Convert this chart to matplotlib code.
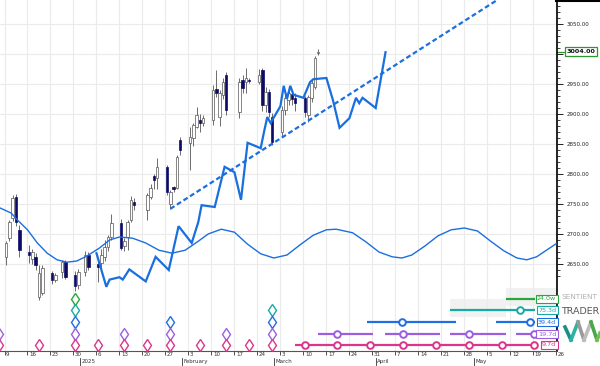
import matplotlib
matplotlib.use("Agg")
import matplotlib.pyplot as plt
import matplotlib.dates as mdates
import matplotlib.transforms as mtransforms
from matplotlib.patches import Rectangle
from matplotlib.lines import Line2D
import pandas as pd

# daily candles
candle_dates = ["2024-12-09", "2024-12-10", "2024-12-11", "2024-12-12", "2024-12-13",
                "2024-12-16", "2024-12-17", "2024-12-18", "2024-12-19", "2024-12-20",
                "2024-12-23", "2024-12-24", "2024-12-26", "2024-12-27",
                "2024-12-30", "2024-12-31", "2025-01-02", "2025-01-03",
                "2025-01-06", "2025-01-07", "2025-01-08", "2025-01-09", "2025-01-10",
                "2025-01-13", "2025-01-14", "2025-01-15", "2025-01-16", "2025-01-17",
                "2025-01-21", "2025-01-22", "2025-01-23", "2025-01-24",
                "2025-01-27", "2025-01-28", "2025-01-29", "2025-01-30", "2025-01-31",
                "2025-02-03", "2025-02-04", "2025-02-05", "2025-02-06", "2025-02-07",
                "2025-02-10", "2025-02-11", "2025-02-12", "2025-02-13", "2025-02-14",
                "2025-02-18", "2025-02-19", "2025-02-20", "2025-02-21",
                "2025-02-24", "2025-02-25", "2025-02-26", "2025-02-27", "2025-02-28",
                "2025-03-03", "2025-03-04", "2025-03-05", "2025-03-06", "2025-03-07",
                "2025-03-10", "2025-03-11", "2025-03-12", "2025-03-13", "2025-03-14"]
opens = [2662, 2693, 2727, 2762, 2707,
         2670, 2658, 2662, 2595, 2602,
         2635, 2623, 2637, 2653,
         2632, 2615, 2637, 2665,
         2650, 2652, 2662, 2678, 2695,
         2718, 2680, 2695, 2723, 2753,
         2740, 2762, 2797, 2793,
         2812, 2750, 2778, 2777, 2857,
         2852, 2860, 2878, 2890, 2885,
         2890, 2942, 2895, 2932, 2965,
         2903, 2957, 2953, 2957,
         2953, 2973, 2915, 2937, 2895,
         2870, 2907, 2923, 2933, 2927,
         2927, 2898, 2927, 2945, 3001]
highs = [2688, 2724, 2765, 2767, 2715,
         2682, 2675, 2668, 2648, 2648,
         2638, 2635, 2657, 2657,
         2638, 2642, 2672, 2670,
         2662, 2675, 2690, 2698, 2733,
         2725, 2693, 2723, 2763, 2760,
         2768, 2783, 2800, 2827,
         2815, 2773, 2780, 2832, 2862,
         2878, 2885, 2912, 2900, 2898,
         2948, 2973, 2940, 2960, 2970,
         2960, 2965, 2977, 2960,
         2975, 2977, 2945, 2942, 2902,
         2913, 2933, 2945, 2940, 2935,
         2930, 2932, 2957, 2997, 3008]
lows = [2648, 2688, 2722, 2714, 2662,
        2652, 2650, 2640, 2590, 2598,
        2617, 2620, 2627, 2625,
        2605, 2608, 2630, 2640,
        2620, 2640, 2655, 2672, 2690,
        2673, 2672, 2673, 2720, 2740,
        2723, 2758, 2775, 2775,
        2765, 2742, 2770, 2775, 2832,
        2807, 2847, 2877, 2870, 2880,
        2882, 2928, 2880, 2925, 2898,
        2893, 2935, 2935, 2952,
        2950, 2905, 2903, 2895, 2848,
        2862, 2898, 2915, 2915, 2905,
        2895, 2887, 2920, 2942, 2998]
closes = [2685, 2720, 2760, 2720, 2673,
          2665, 2670, 2648, 2635, 2643,
          2623, 2632, 2653, 2628,
          2613, 2637, 2665, 2645,
          2645, 2665, 2678, 2695, 2718,
          2677, 2688, 2720, 2757, 2748,
          2765, 2777, 2790, 2812,
          2770, 2770, 2775, 2828, 2840,
          2862, 2882, 2898, 2885, 2893,
          2940, 2935, 2935, 2953, 2907,
          2953, 2943, 2960, 2955,
          2965, 2915, 2937, 2903, 2853,
          2907, 2927, 2935, 2925, 2918,
          2903, 2928, 2952, 2993, 3004]
last_price = 3004

# bold blue projection line
proj_dates = ["2025-01-06", "2025-01-09", "2025-01-10", "2025-01-13", "2025-01-14",
              "2025-01-16", "2025-01-21", "2025-01-24", "2025-01-28", "2025-01-31",
              "2025-02-04", "2025-02-06", "2025-02-07", "2025-02-11", "2025-02-14",
              "2025-02-17", "2025-02-19", "2025-02-21", "2025-02-25", "2025-02-26",
              "2025-02-27", "2025-02-28", "2025-03-03", "2025-03-04", "2025-03-05",
              "2025-03-06", "2025-03-07", "2025-03-10", "2025-03-12", "2025-03-13",
              "2025-03-17", "2025-03-19", "2025-03-21", "2025-03-24", "2025-03-26",
              "2025-03-27", "2025-03-28", "2025-04-01", "2025-04-04"]
proj_vals = [2668, 2612, 2624, 2628, 2624,
             2641, 2621, 2662, 2640, 2713,
             2685, 2720, 2748, 2745, 2812,
             2803, 2757, 2852, 2843, 2870,
             2895, 2885, 2913, 2947, 2925,
             2947, 2932, 2927, 2953, 2958,
             2960, 2923, 2877, 2893, 2927,
             2918, 2927, 2910, 3003]

# thin composite cycle line
cycle_dates = ["2024-12-07", "2024-12-11", "2024-12-13", "2024-12-16", "2024-12-19",
               "2024-12-22", "2024-12-25", "2024-12-28", "2024-12-31", "2025-01-03",
               "2025-01-07", "2025-01-10", "2025-01-13", "2025-01-17", "2025-01-21",
               "2025-01-25", "2025-01-29", "2025-02-02", "2025-02-06", "2025-02-09",
               "2025-02-13", "2025-02-17", "2025-02-21", "2025-02-25", "2025-03-01",
               "2025-03-05", "2025-03-09", "2025-03-13", "2025-03-17", "2025-03-20",
               "2025-03-25", "2025-03-29", "2025-04-02", "2025-04-06", "2025-04-09",
               "2025-04-12", "2025-04-16", "2025-04-20", "2025-04-24", "2025-04-28",
               "2025-05-02", "2025-05-06", "2025-05-10", "2025-05-14", "2025-05-17",
               "2025-05-20", "2025-05-23", "2025-05-26"]
cycle_vals = [2745, 2735, 2723, 2707, 2685,
              2668, 2657, 2653, 2655, 2663,
              2677, 2690, 2695, 2693, 2685,
              2673, 2668, 2673, 2688, 2700,
              2708, 2703, 2683, 2667, 2660,
              2665, 2682, 2698, 2707, 2708,
              2702, 2687, 2670, 2662, 2660,
              2665, 2680, 2697, 2707, 2710,
              2705, 2688, 2672, 2660, 2657,
              2662, 2673, 2684]

# dashed trend line
trend_dates = ["2025-01-28 12:00", "2025-05-08"]
trend_vals = [2742, 3090]

# cycle troughs (diamonds) and projected windows
cycle_names = ["24.0w", "75.3d", "39.4d", "19.7d", "9.7d"]
cycle_colors = ["#2aa63c", "#17aaa3", "#1f6fe3", "#9b5fe0", "#d9368c"]
trough_dates = {
    "24.0w": ["2024-12-30"],
    "75.3d": ["2024-12-30", "2025-02-28"],
    "39.4d": ["2024-12-30", "2025-01-28", "2025-02-28"],
    "19.7d": ["2024-12-06 18:00", "2024-12-30", "2025-01-14", "2025-01-28", "2025-02-14", "2025-02-28"],
    "9.7d": ["2024-12-06 18:00", "2024-12-19", "2024-12-30", "2025-01-06", "2025-01-14", "2025-01-21",
             "2025-01-28", "2025-02-06", "2025-02-14", "2025-02-21", "2025-02-28"],
}
window_spans = {
    "24.0w": [("2025-05-10 19:00", "2025-05-19 12:00")],
    "75.3d": [("2025-04-23 17:00", "2025-05-19 12:00")],
    "39.4d": [("2025-03-29 12:00", "2025-04-25 14:00"), ("2025-05-07 17:00", "2025-05-19 12:00")],
    "19.7d": [("2025-03-14 14:00", "2025-03-31 07:00"), ("2025-04-03 17:00", "2025-04-20 17:00"),
              ("2025-04-23 17:00", "2025-05-10 19:00"), ("2025-05-13 19:00", "2025-05-19 12:00")],
    "9.7d": [("2025-03-07 14:00", "2025-05-19 12:00")],
}
window_marks = {
    "24.0w": [],
    "75.3d": ["2025-05-15"],
    "39.4d": ["2025-04-09 03:00", "2025-05-18"],
    "19.7d": ["2025-03-20 08:00", "2025-04-09 10:00", "2025-04-29 12:00", "2025-05-19 08:00"],
    "9.7d": ["2025-03-10 08:00", "2025-03-20 08:00", "2025-03-30 10:00", "2025-04-09 10:00",
             "2025-04-19 12:00", "2025-04-29 12:00", "2025-05-09 14:00", "2025-05-19 08:00"],
}
shade_spans = [("2025-05-10 19:00", "2025-05-27", 2580, 2610),
               ("2025-04-23 17:00", "2025-05-10 19:00", 2562, 2592)]

week_ticks = pd.date_range("2024-12-09", "2025-05-26", freq="7D")
month_ticks = ["2025-01-01", "2025-02-01", "2025-03-01", "2025-04-01", "2025-05-01"]
month_labels = ["2025", "February", "March", "April", "May"]

BLUE = "#1a6fdf"


def num(d):
    return mdates.date2num(pd.to_datetime(d))


fig = plt.figure(figsize=(6, 3.66), dpi=100)
ax = fig.add_axes([0, 15 / 366, 556.5 / 600, 351 / 366])
base = num("2024-12-09")
ax.set_xlim(base - 1.37, base + 168.05)
ax.set_ylim(2505, 3090)

row_level = dict(zip(cycle_names, [2592, 2573, 2553, 2533, 2515]))

for d0, d1, v0, v1 in shade_spans:
    ax.add_patch(Rectangle((num(d0), v0), num(d1) - num(d0), v1 - v0,
                           facecolor="#f1f1f1", edgecolor="none", zorder=0.5))

# candles
cx = [num(d) + 0.5 for d in candle_dates]
for x, o, h, l, c in zip(cx, opens, highs, lows, closes):
    up = c >= o
    ax.plot([x, x], [l, h], color="#555555", lw=0.6, zorder=3, solid_capstyle="butt")
    ax.add_patch(Rectangle((x - 0.38, min(o, c)), 0.76, max(abs(c - o), 1.0),
                           facecolor="white" if up else "#0c0c66",
                           edgecolor="#555555" if up else "#0c0c66", lw=0.5, zorder=4))

ax.plot([num(d) for d in cycle_dates], cycle_vals, color=BLUE, lw=1.0, zorder=5)
ax.plot([num(d) for d in proj_dates], proj_vals, color=BLUE, lw=1.6, zorder=6,
        solid_joinstyle="miter")
ax.plot([num(d) for d in trend_dates], trend_vals, color=BLUE, lw=1.6,
        dashes=(2.2, 1.3), zorder=6)

# trough diamonds
for name, color in zip(cycle_names, cycle_colors):
    xs = [num(d) + 0.5 for d in trough_dates[name]]
    ax.plot(xs, [row_level[name]] * len(xs), linestyle="none", marker="d", ms=6.0,
            mfc="white", mec=color, mew=1.0, zorder=7, clip_on=True)

# projection windows
for name, color in zip(cycle_names, cycle_colors):
    for d0, d1 in window_spans[name]:
        ax.plot([num(d0), num(d1)], [row_level[name]] * 2, color=color, lw=1.6,
                zorder=7, solid_capstyle="butt")
    xs = [num(d) for d in window_marks[name]]
    ax.plot(xs, [row_level[name]] * len(xs), linestyle="none", marker="o", ms=4.8,
            mfc="white", mec=color, mew=1.4, zorder=8)

lab_tr = mtransforms.blended_transform_factory(ax.transAxes, ax.transData)
for name, color in zip(cycle_names, cycle_colors):
    ax.text(0.9995, row_level[name], name, transform=lab_tr, ha="right", va="center",
            fontsize=4.6, color=color, zorder=9,
            bbox=dict(boxstyle="square,pad=0.22", fc="white", ec=color, lw=0.8))

# grid & axes
ax.set_yticks([2650, 2700, 2750, 2800, 2850, 2900, 2950, 3000, 3050])
ax.set_yticklabels(["2650.00", "2700.00", "2750.00", "2800.00", "2850.00", "2900.00",
                    "2950.00", "", "3050.00"])
ax.set_yticks(range(2630, 3091, 10), minor=True)
ax.yaxis.tick_right()
ax.tick_params(axis="y", which="major", length=4.5, width=0.7, labelsize=4,
               pad=3, colors="#222222")
ax.tick_params(axis="y", which="minor", length=2.2, width=0.6, colors="#222222")

ax.set_xticks([mdates.date2num(d) for d in week_ticks])
ax.set_xticklabels([str(d.day) for d in week_ticks])
ax.tick_params(axis="x", length=3, width=0.6, labelsize=4, pad=-2, colors="#333333")
shift = mtransforms.ScaledTranslation(1.5 / 100, 0, fig.dpi_scale_trans)
for t in ax.get_xticklabels():
    t.set_horizontalalignment("left")
    t.set_transform(t.get_transform() + shift)

ax.grid(True, which="major", color="#ebebeb", lw=0.8, zorder=0)
ax.set_axisbelow(True)
for s in ["top", "left"]:
    ax.spines[s].set_visible(False)
ax.spines["right"].set_color("black")
ax.spines["right"].set_linewidth(1.2)
ax.spines["bottom"].set_color("#555555")
ax.spines["bottom"].set_linewidth(0.8)

xa_tr = mtransforms.blended_transform_factory(ax.transData, ax.transAxes)
for d, lab in zip(month_ticks, month_labels):
    x = num(d)
    ax.plot([x, x], [-7 / 351, -14 / 351], color="#333333", lw=0.6,
            transform=xa_tr, clip_on=False)
    ax.text(x, -10.5 / 351, lab, transform=xa_tr + shift, ha="left", va="center",
            fontsize=4, color="#333333")

# last price tag
ax.plot([1.0, 1.016], [last_price, last_price], color="#2a9a2a", lw=0.9,
        transform=lab_tr, clip_on=False)
ax.text(1.018, last_price, f"{last_price:.2f}", transform=lab_tr, ha="left", va="center",
        fontsize=4.6, fontweight="bold", color="#111111",
        bbox=dict(boxstyle="square,pad=0.3", fc="white", ec="#2a9a2a", lw=0.9))

fig.add_artist(Line2D([556 / 600, 1], [0.998, 0.998], transform=fig.transFigure,
                      color="black", lw=1.5))

# logo
fig.text(561 / 600, 1 - 297 / 366, "SENTIENT", fontsize=5.3, color="#b0b0b0",
         va="center", ha="left")
fig.text(561 / 600, 1 - 311 / 366, "TRADER", fontsize=6.8, color="#555555",
         va="center", ha="left")
logo_x = [565, 571, 578, 584, 591, 597, 600]
logo_y = [327, 340, 322, 340, 322, 340, 333]
logo_c = ["#1b8f86", "#2bb3a0", "#9a9a9a", "#bdbdbd", "#49a84a", "#6fc24f"]
for i in range(len(logo_c)):
    fig.add_artist(Line2D([logo_x[i] / 600, logo_x[i + 1] / 600],
                          [1 - logo_y[i] / 366, 1 - logo_y[i + 1] / 366],
                          transform=fig.transFigure, color=logo_c[i], lw=2.6))

fig.savefig("out.png", dpi=100)
